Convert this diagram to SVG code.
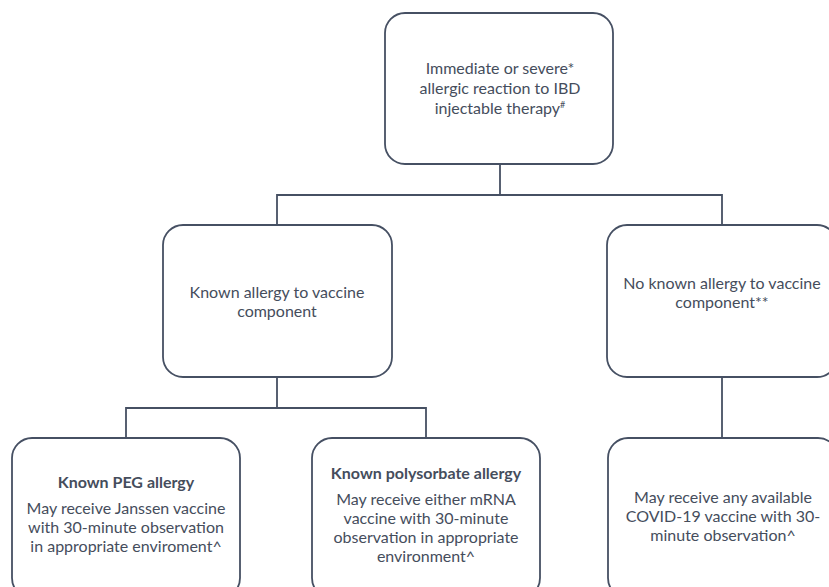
<svg xmlns="http://www.w3.org/2000/svg" width="829" height="587" viewBox="0 0 829 587">
<style>
.box{fill:#ffffff;stroke:#465063;stroke-width:1.8}
.ln{fill:none;stroke:#465063;stroke-width:1.8}
text{font-family:Lato,"Open Sans","Liberation Sans",sans-serif;font-size:16px;fill:#454d5c;text-anchor:middle}
.b{font-weight:bold}
</style>
<rect width="829" height="587" fill="#ffffff"/>
<g id="connectors">
<path class="ln" d="M500,164 V195 M277,225 V195 H722 V225"/>
<path class="ln" d="M277,377 V408 M126,438 V408 H426 V438"/>
<path class="ln" d="M722,377 V438"/>
</g>
<g id="n1">
<rect class="box" x="385" y="13" width="228" height="151" rx="20"/>
<text x="500" y="74">Immediate or severe*</text>
<text x="500" y="94">allergic reaction to IBD</text>
<text x="500" y="114">injectable therapy<tspan font-size="9" dy="-6">#</tspan></text>
</g>
<g id="n2">
<rect class="box" x="163" y="225" width="229" height="152" rx="20"/>
<text x="277" y="298">Known allergy to vaccine</text>
<text x="277" y="317">component</text>
</g>
<g id="n3">
<rect class="box" x="607" y="225" width="230" height="152" rx="20"/>
<text x="722" y="289">No known allergy to vaccine</text>
<text x="722" y="308">component**</text>
</g>
<g id="n4">
<rect class="box" x="12" y="438" width="228" height="160" rx="20"/>
<text class="b" x="126" y="488">Known PEG allergy</text>
<text x="126" y="514">May receive Janssen vaccine</text>
<text x="126" y="533">with 30-minute observation</text>
<text x="126" y="552">in appropriate enviroment^</text>
</g>
<g id="n5">
<rect class="box" x="312" y="438" width="228" height="160" rx="20"/>
<text class="b" x="426" y="479">Known polysorbate allergy</text>
<text x="426" y="505">May receive either mRNA</text>
<text x="426" y="524">vaccine with 30-minute</text>
<text x="426" y="543">observation in appropriate</text>
<text x="426" y="562">environment^</text>
</g>
<g id="n6">
<rect class="box" x="608" y="438" width="230" height="160" rx="20"/>
<text x="723" y="503">May receive any available</text>
<text x="723" y="522">COVID-19 vaccine with 30-</text>
<text x="723" y="541">minute observation^</text>
</g>
</svg>
